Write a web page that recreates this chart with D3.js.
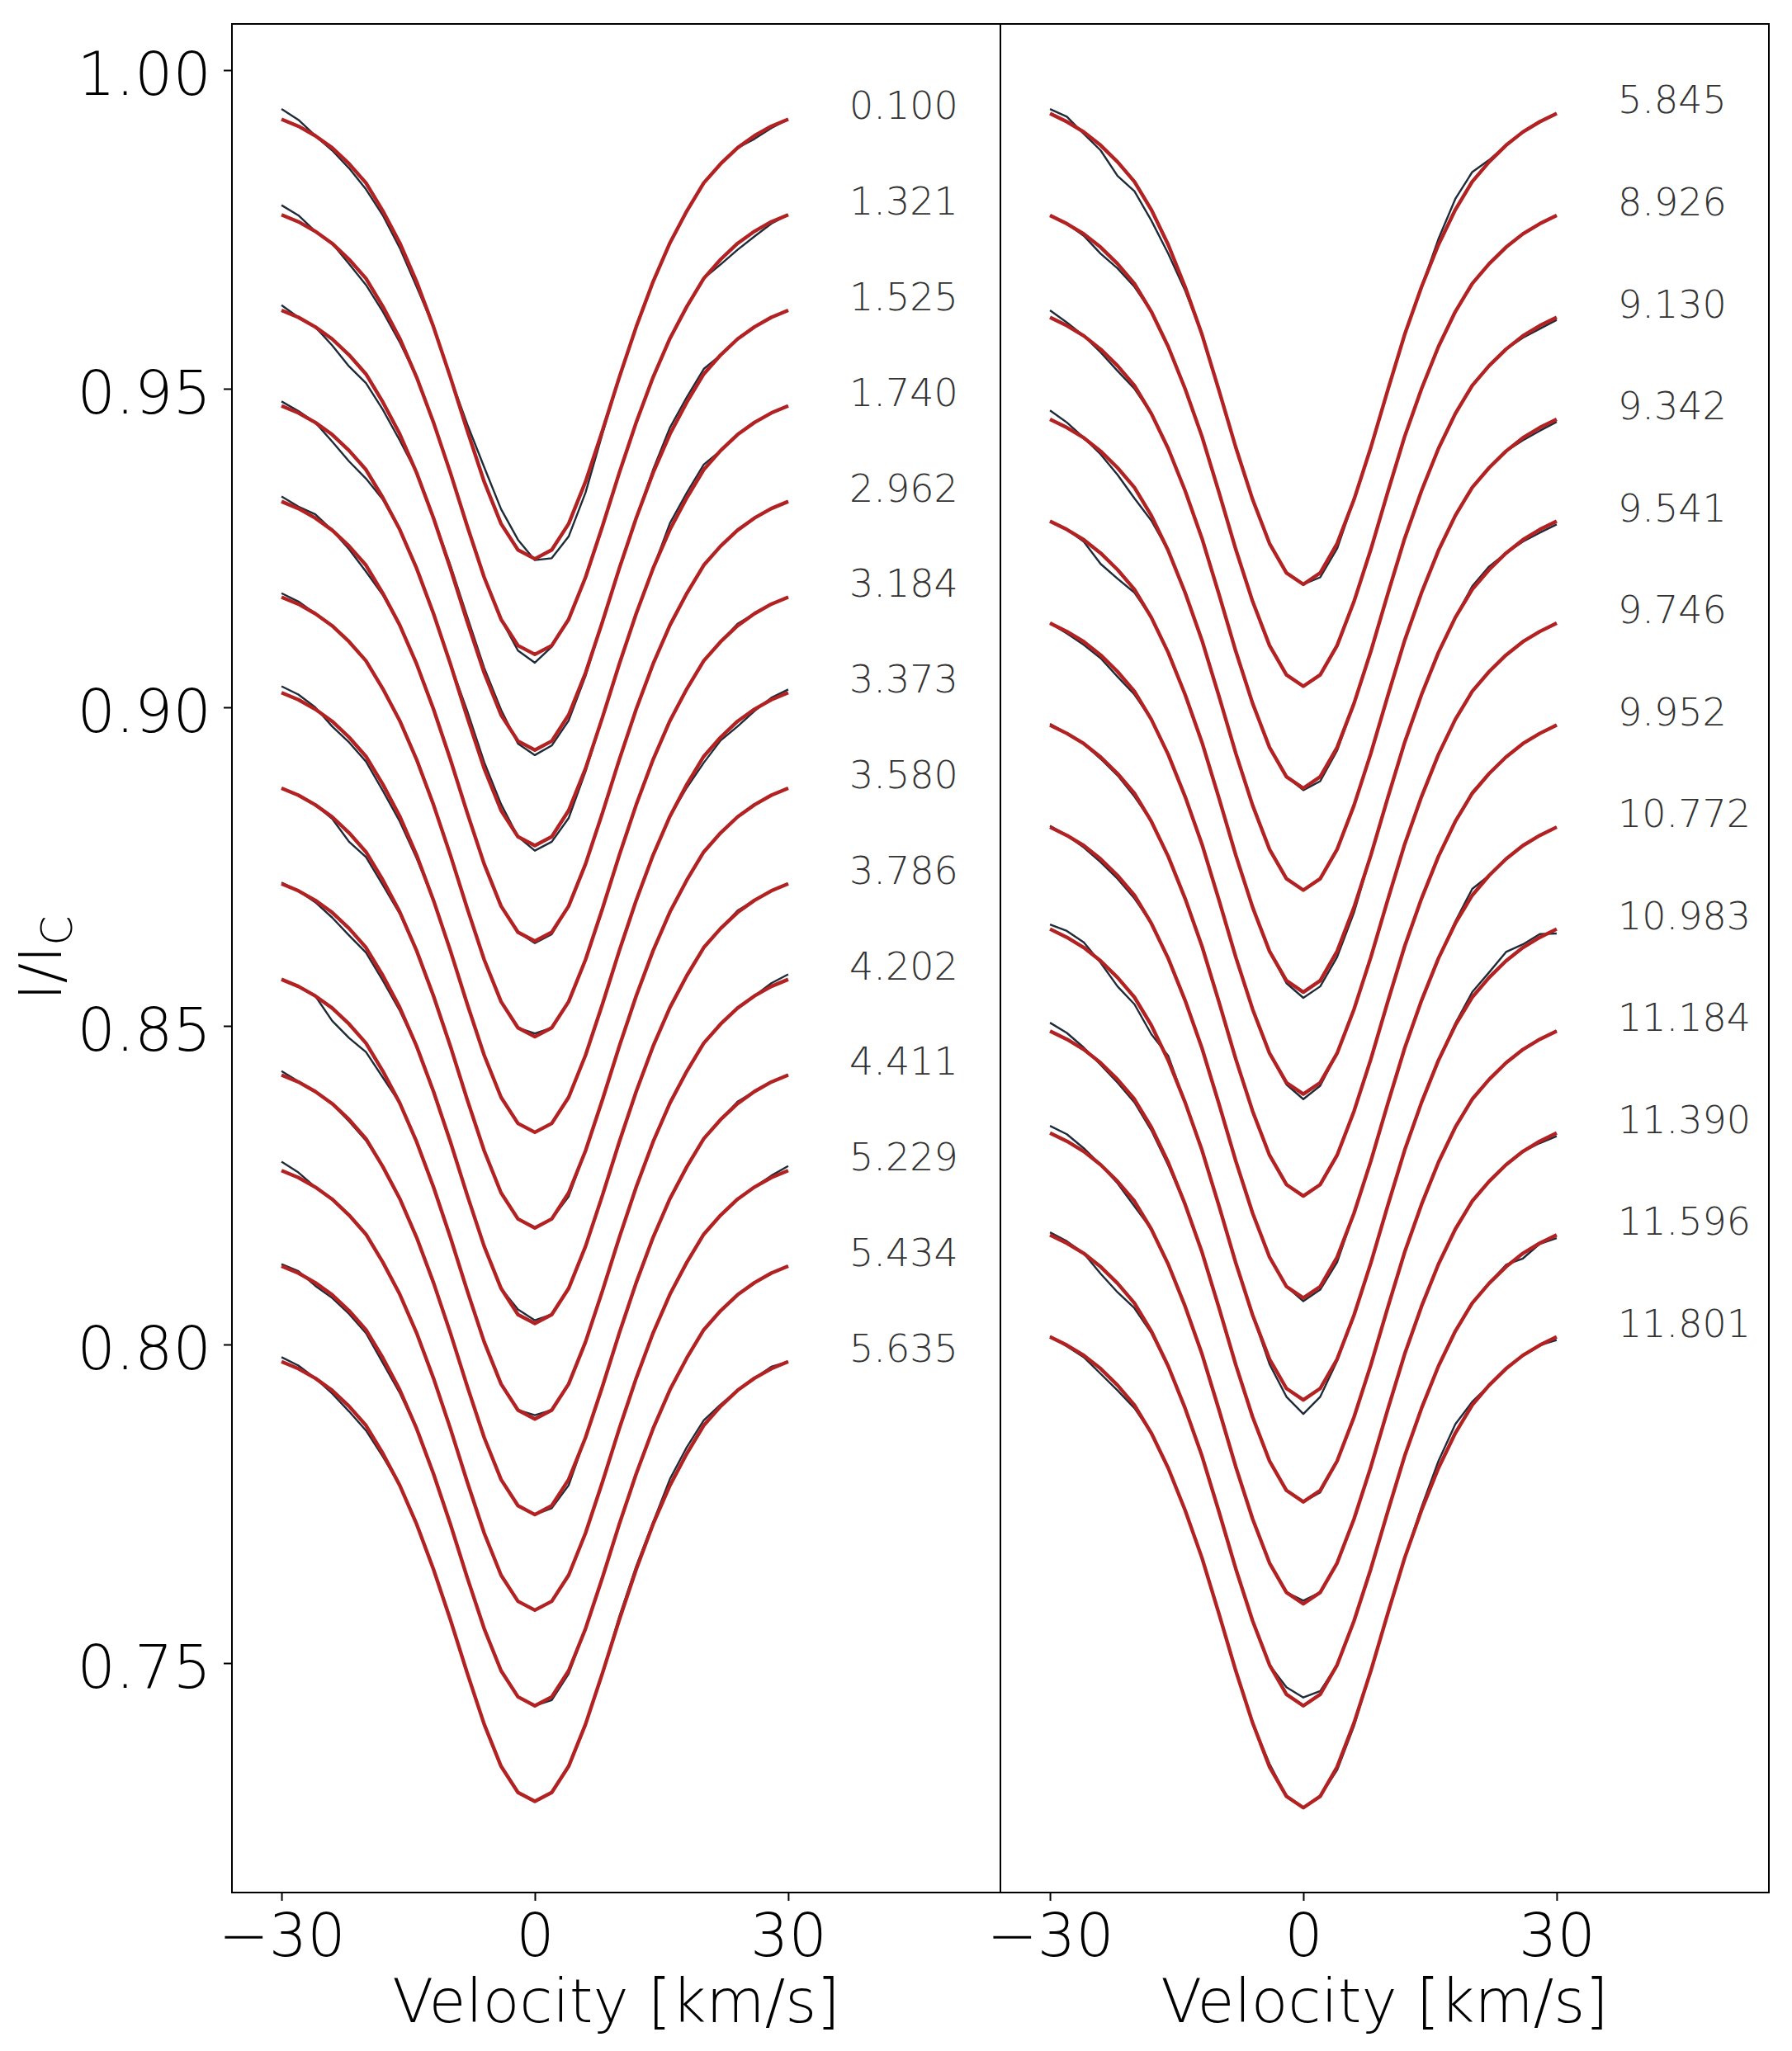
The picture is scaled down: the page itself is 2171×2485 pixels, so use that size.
<!DOCTYPE html>
<html>
<head>
<meta charset="utf-8">
<script src="https://cdnjs.cloudflare.com/ajax/libs/d3/7.8.5/d3.min.js"></script>
<style>
    body { margin: 0; background: #fff; }
    svg text { font-family: 'DejaVu Sans', sans-serif; font-weight: 200; }
</style>
</head>
<body>
<div id="profiles"></div>
<script>
// velocity grid of the profiles [km/s]
var velocity = [-30, -28, -26, -24, -22, -20, -18, -16, -14, -12, -10, -8, -6, -4, -2, 0,
    2, 4, 6, 8, 10, 12, 14, 16, 18, 20, 22, 24, 26, 28, 30];

// phase labels of each stacked profile
var leftPhases = ['0.100', '1.321', '1.525', '1.740', '2.962', '3.184', '3.373',
    '3.580', '3.786', '4.202', '4.411', '5.229', '5.434', '5.635'];
var rightPhases = ['5.845', '8.926', '9.130', '9.342', '9.541', '9.746', '9.952',
    '10.772', '10.983', '11.184', '11.390', '11.596', '11.801'];

// model profile (top curve of each panel), I/Ic
var leftModel = [0.9923, 0.9912, 0.9897, 0.9878, 0.9853, 0.9823, 0.9779, 0.9729, 0.9668, 0.9597,
    0.9518, 0.9434, 0.9354, 0.9288, 0.9247, 0.9233, 0.9247, 0.9288, 0.9354, 0.9434, 0.9518,
    0.9597, 0.9668, 0.9729, 0.9779, 0.9823, 0.9853, 0.9878, 0.9897, 0.9912, 0.9923];
var rightModel = [0.9932, 0.9919, 0.9903, 0.9882, 0.9856, 0.9825, 0.9781, 0.9726, 0.9660, 0.9585,
    0.9498, 0.9408, 0.9326, 0.9257, 0.9211, 0.9193, 0.9211, 0.9257, 0.9326, 0.9408, 0.9498,
    0.9585, 0.9660, 0.9726, 0.9781, 0.9825, 0.9856, 0.9882, 0.9903, 0.9919, 0.9932];

// vertical shift of each profile in the stack
var leftOffsets = [0.000, 0.015, 0.030, 0.045, 0.060, 0.075, 0.090, 0.105, 0.120, 0.135, 0.150, 0.165, 0.180, 0.195];
var rightOffsets = [0.000, 0.016, 0.032, 0.048, 0.064, 0.080, 0.096, 0.112, 0.128, 0.144, 0.160, 0.176, 0.192];

// observed minus model, in units of 1e-4
var leftResid = [
    [16,10,0,-4,-7,-10,-7,-8,-8,0,0,10,23,23,16,-2,-13,-20,-17,-5,0,0,0,0,0,0,0,0,-5,-3,0],
    [15,10,0,0,-7,-10,-8,-6,0,0,0,0,0,0,-8,-13,-2,0,0,0,0,0,0,0,0,0,-8,-10,-8,-3,0],
    [8,0,0,-10,-18,-14,-12,-10,0,0,5,8,8,8,-4,-8,-7,-9,-5,0,0,0,5,10,8,8,0,0,0,0,0],
    [7,3,0,-11,-17,-14,-3,0,0,0,0,10,10,10,0,-8,-8,-12,-5,0,0,0,0,10,8,8,0,0,0,0,0],
    [8,3,6,0,-5,-10,-3,0,0,0,0,0,0,0,0,-3,-3,0,0,0,0,0,0,0,0,0,0,0,0,0,0],
    [6,4,0,0,0,0,0,0,0,0,0,0,0,0,0,5,0,0,0,0,0,0,0,0,0,0,0,3,0,0,0],
    [10,8,3,-8,-8,-8,-10,-8,-5,0,0,0,0,0,0,0,0,0,0,0,0,0,0,0,-5,-10,-5,-8,-3,3,5],
    [0,0,0,-3,-14,-8,-8,-3,0,0,0,0,0,0,0,0,0,-6,0,0,0,0,0,0,0,0,0,0,0,0,0],
    [2,0,-3,-8,-11,-8,-8,-5,0,0,0,0,0,0,8,5,0,0,0,0,0,0,0,0,0,0,0,3,0,0,0],
    [0,0,0,-20,-22,-14,-10,0,0,0,0,0,0,0,0,6,0,0,0,0,0,0,0,0,0,0,0,0,0,5,8],
    [6,1,0,0,-3,-3,0,0,0,0,0,0,0,0,0,0,-4,-9,0,0,0,0,0,0,0,0,0,3,0,0,0],
    [14,8,0,0,0,0,0,0,0,0,0,0,0,0,0,0,0,0,0,0,0,0,0,0,0,0,0,0,0,3,7],
    [3,3,-5,-5,-5,-5,-8,-5,0,0,0,0,0,0,0,0,-5,-5,0,0,0,0,0,0,0,0,0,0,0,0,0],
    [7,5,0,-5,-8,-8,-5,0,0,0,0,0,0,0,0,0,0,0,0,0,5,5,3,10,10,8,3,0,0,3,0]
];
var rightResid = [
    [7,8,-3,-8,-22,-15,-17,-14,-6,0,0,0,0,0,0,0,-7,-8,0,0,0,0,0,9,17,15,3,0,0,0,0],
    [0,0,-3,-10,-7,-5,0,0,0,0,0,0,0,0,0,0,0,0,0,0,0,0,0,0,0,0,0,0,0,0,0],
    [11,5,0,-5,-8,-5,0,0,0,0,0,0,0,0,0,-3,-7,-5,0,0,0,0,0,0,0,0,0,0,-3,-5,-4],
    [14,8,0,-5,-11,-17,-8,0,0,0,0,0,0,0,0,0,0,0,0,0,0,0,0,0,0,0,0,0,-4,-5,-4],
    [0,0,-3,-17,-14,-5,0,0,0,0,0,0,0,0,-4,-9,-9,-9,-8,0,0,0,0,0,0,5,5,0,-3,-5,-5],
    [0,-3,-5,-5,-8,-5,0,0,0,0,0,0,0,0,-3,-8,-5,0,0,0,0,0,0,0,0,0,0,0,0,0,0],
    [2,0,0,-3,-3,-5,0,0,0,0,0,0,0,0,0,0,0,0,0,0,0,0,0,0,0,2,0,0,0,0,0],
    [2,0,-3,-5,-5,-5,0,0,0,0,0,0,0,0,0,-5,-5,-8,0,0,0,0,0,0,3,10,0,0,0,0,0],
    [7,10,8,-3,-14,-11,-14,7,0,0,0,0,0,-8,-13,-22,-13,-3,0,0,0,0,0,0,3,8,8,14,5,5,-7],
    [13,10,3,-3,-5,-5,-5,-5,0,0,0,0,0,0,0,0,-3,0,0,0,0,0,0,0,0,0,0,0,0,0,0],
    [11,11,5,0,-3,-8,0,0,0,0,0,0,0,0,0,5,0,0,0,0,0,0,0,0,0,0,0,0,0,-3,-5],
    [4,3,0,-11,-14,-8,-3,0,0,0,0,0,0,0,11,13,5,0,0,0,0,0,0,0,0,0,0,3,-8,-1,-5],
    [1,-2,-3,-8,-8,-5,0,0,0,0,0,0,0,5,0,0,0,-5,-5,0,0,0,5,11,14,5,0,0,0,0,-5]
];

var yTicks = [0.75, 0.80, 0.85, 0.90, 0.95, 1.00];
var xTicks = [-30, 0, 30];


/**
 * ProfilePanel
 * @param _svg     -- svg selection to draw in
 * @param _left    -- left edge of the panel in px
 * @param _model   -- model profile of the top curve
 * @param _offsets -- shift of each stacked profile
 * @param _resid   -- observed minus model for each profile
 * @param _phases  -- label of each profile
 * @param _yAxis   -- draw the y axis or not
 */
ProfilePanel = function(_svg, _left, _model, _offsets, _resid, _phases, _yAxis) {
    this.svg = _svg;
    this.left = _left;
    this.model = _model;
    this.offsets = _offsets;
    this.resid = _resid;
    this.phases = _phases;
    this.yAxis = _yAxis;

    this.initVisualization();
}

ProfilePanel.prototype.initVisualization = function() {
    var vis = this;

    vis.top = 29;
    vis.width = 931;
    vis.height = 2264;

    vis.g = vis.svg.append('g')
        .attr('transform', 'translate(' + vis.left + ',' + vis.top + ')');

    vis.x = d3.scaleLinear()
        .domain([-35.87, 55.13])
        .range([0, vis.width]);

    vis.y = d3.scaleLinear()
        .domain([0.71399, 1.00725])
        .range([vis.height, 0]);

    vis.updateVisualization();
}

ProfilePanel.prototype.updateVisualization = function() {
    var vis = this;

    var line = d3.line()
        .x(function(d) { return vis.x(d.v); })
        .y(function(d) { return vis.y(d.I); });

    vis.offsets.forEach(function(off, i) {
        var obs = velocity.map(function(v, j) {
            return { v: v, I: vis.model[j] - off + vis.resid[i][j] * 1e-4 };
        });
        var mod = velocity.map(function(v, j) {
            return { v: v, I: vis.model[j] - off };
        });

        vis.g.append('path')
            .datum(obs)
            .attr('fill', 'none')
            .attr('stroke', '#1f2b38')
            .attr('stroke-width', 2.4)
            .attr('stroke-linejoin', 'round')
            .attr('d', line);

        vis.g.append('path')
            .datum(mod)
            .attr('fill', 'none')
            .attr('stroke', '#b22222')
            .attr('stroke-width', 4.4)
            .attr('stroke-linejoin', 'round')
            .attr('d', line);

        // phase label at the continuum level
        vis.g.append('text')
            .attr('x', vis.x(37.25))
            .attr('y', vis.y(vis.model[vis.model.length - 1] - off))
            .attr('font-size', 46)
            .attr('fill', '#333')
            .text(vis.phases[i]);
    });

    // x axis
    var xAxis = d3.axisBottom(vis.x)
        .tickValues(xTicks)
        .tickFormat(function(d) { return d < 0 ? '\u2212' + Math.abs(d) : d; })
        .tickSize(10)
        .tickPadding(15);

    var gx = vis.g.append('g')
        .attr('transform', 'translate(0,' + vis.height + ')')
        .call(xAxis);
    gx.select('.domain').remove();
    gx.selectAll('line').attr('stroke', '#000').attr('stroke-width', 2);
    gx.selectAll('text')
        .attr('font-size', 73)
        .attr('font-family', null)
        .attr('fill', '#000');

    vis.g.append('text')
        .attr('x', vis.width / 2)
        .attr('y', 2450 - vis.top)
        .attr('text-anchor', 'middle')
        .attr('font-size', 73)
        .text('Velocity [km/s]');

    // y axis only on the left panel
    if (vis.yAxis) {
        var yAxis = d3.axisLeft(vis.y)
            .tickValues(yTicks)
            .tickFormat(d3.format('.2f'))
            .tickSize(10)
            .tickPadding(15);

        var gy = vis.g.append('g').call(yAxis);
        gy.select('.domain').remove();
        gy.selectAll('line').attr('stroke', '#000').attr('stroke-width', 2);
        gy.selectAll('text')
            .attr('font-size', 73)
            .attr('font-family', null)
            .attr('dy', '0.40em')
            .attr('fill', '#000');

        var lab = vis.svg.append('text')
            .attr('transform', 'translate(74,' + (vis.top + vis.height / 2) + ') rotate(-90)')
            .attr('text-anchor', 'middle')
            .attr('font-size', 72);
        lab.append('tspan').text('I/I');
        lab.append('tspan')
            .attr('font-size', 52)
            .attr('dy', 13)
            .text('C');
    }

    // frame
    vis.g.append('rect')
        .attr('width', vis.width)
        .attr('height', vis.height)
        .attr('fill', 'none')
        .attr('stroke', '#000')
        .attr('stroke-width', 2);
}


var svg = d3.select('#profiles')
    .append('svg')
    .attr('width', 2171)
    .attr('height', 2485)
    .style('background', '#fff');

var leftPanel = new ProfilePanel(svg, 281, leftModel, leftOffsets, leftResid, leftPhases, true);
var rightPanel = new ProfilePanel(svg, 1212, rightModel, rightOffsets, rightResid, rightPhases, false);
</script>
</body>
</html>
